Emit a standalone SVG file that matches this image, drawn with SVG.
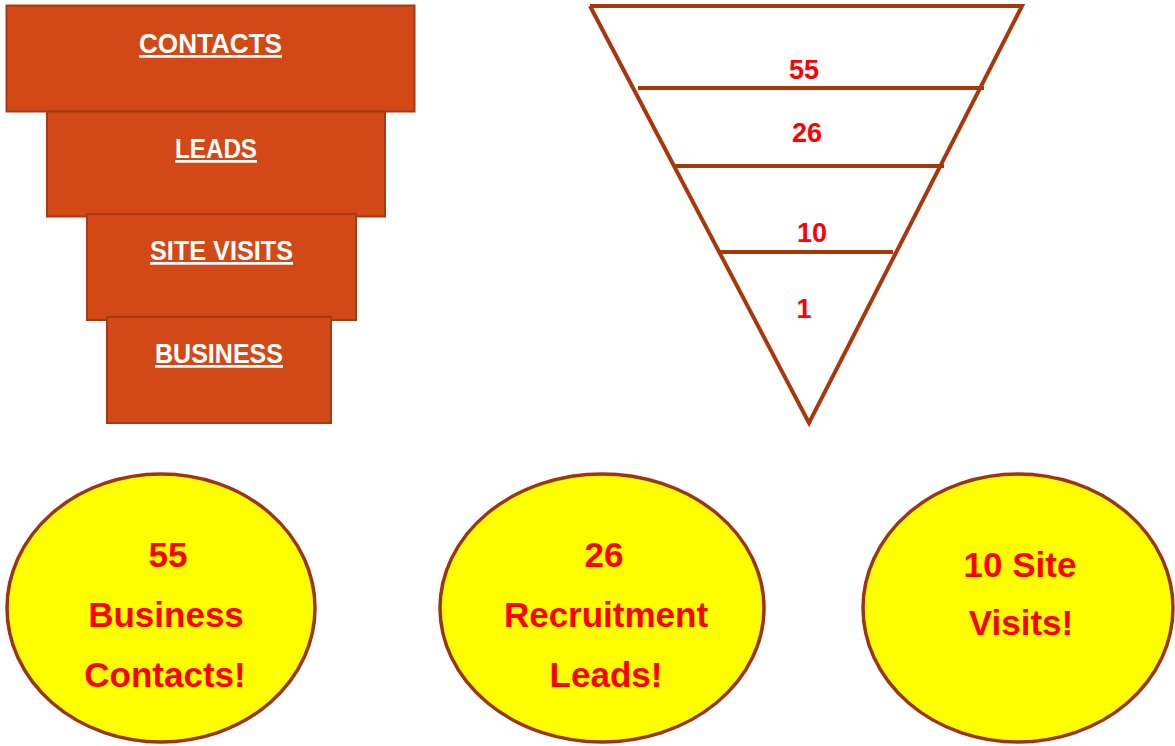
<svg xmlns="http://www.w3.org/2000/svg" width="1175" height="746" viewBox="0 0 1175 746">
<style>
.box{fill:#D34817;stroke:#A63A10;stroke-width:2}
.bl{font-family:"Liberation Sans",Arial,sans-serif;font-weight:bold;font-size:27px;fill:#FFFFFF;text-anchor:middle;text-decoration:underline}
.fn{fill:none;stroke:#A8380C;stroke-width:4;stroke-linecap:butt}
.num{font-family:"Liberation Sans",Arial,sans-serif;font-weight:bold;font-size:27px;fill:#FF0000;text-anchor:middle}
.ell{fill:#FFFF00;stroke:#9C3512;stroke-width:3.5}
.et{font-family:"Liberation Sans",Arial,sans-serif;font-weight:bold;font-size:35px;fill:#FF0000;text-anchor:middle}
</style>
<rect width="1175" height="746" fill="#FFFFFF"/>
<g id="box-contacts">
<rect class="box" x="6.5" y="5.5" width="408" height="106"/>
<text class="bl" x="210.5" y="53" textLength="143" lengthAdjust="spacingAndGlyphs">CONTACTS</text>
</g>
<g id="box-leads">
<rect class="box" x="47" y="111.5" width="338" height="105"/>
<text class="bl" x="216" y="158" textLength="82" lengthAdjust="spacingAndGlyphs">LEADS</text>
</g>
<g id="box-site-visits">
<rect class="box" x="87" y="214" width="269" height="106"/>
<text class="bl" x="221.5" y="260" textLength="143" lengthAdjust="spacingAndGlyphs">SITE VISITS</text>
</g>
<g id="box-business">
<rect class="box" x="107" y="317" width="224" height="106"/>
<text class="bl" x="219" y="363" textLength="128" lengthAdjust="spacingAndGlyphs">BUSINESS</text>
</g>
<g id="funnel">
<polyline class="fn" points="590,6 1022,6 809,423 590,6" stroke-linejoin="miter"/>
<line class="fn" x1="638" y1="88" x2="984" y2="88"/>
<line class="fn" x1="675" y1="166" x2="944" y2="166"/>
<line class="fn" x1="720" y1="252" x2="893" y2="252"/>
<text class="num" x="804" y="79">55</text>
<text class="num" x="807" y="142">26</text>
<text class="num" x="812" y="242">10</text>
<text class="num" x="804" y="318">1</text>
</g>
<g id="ellipse-contacts">
<ellipse class="ell" cx="161" cy="608" rx="154" ry="134"/>
<text class="et" x="168" y="567">55</text>
<text class="et" x="166" y="627">Business</text>
<text class="et" x="165" y="687">Contacts!</text>
</g>
<g id="ellipse-leads">
<ellipse class="ell" cx="602" cy="608" rx="162" ry="134"/>
<text class="et" x="604" y="567">26</text>
<text class="et" x="606" y="627">Recruitment</text>
<text class="et" x="606" y="687">Leads!</text>
</g>
<g id="ellipse-visits">
<ellipse class="ell" cx="1018" cy="608" rx="155" ry="134"/>
<text class="et" x="1020" y="577">10 Site</text>
<text class="et" x="1021" y="635">Visits!</text>
</g>
</svg>
